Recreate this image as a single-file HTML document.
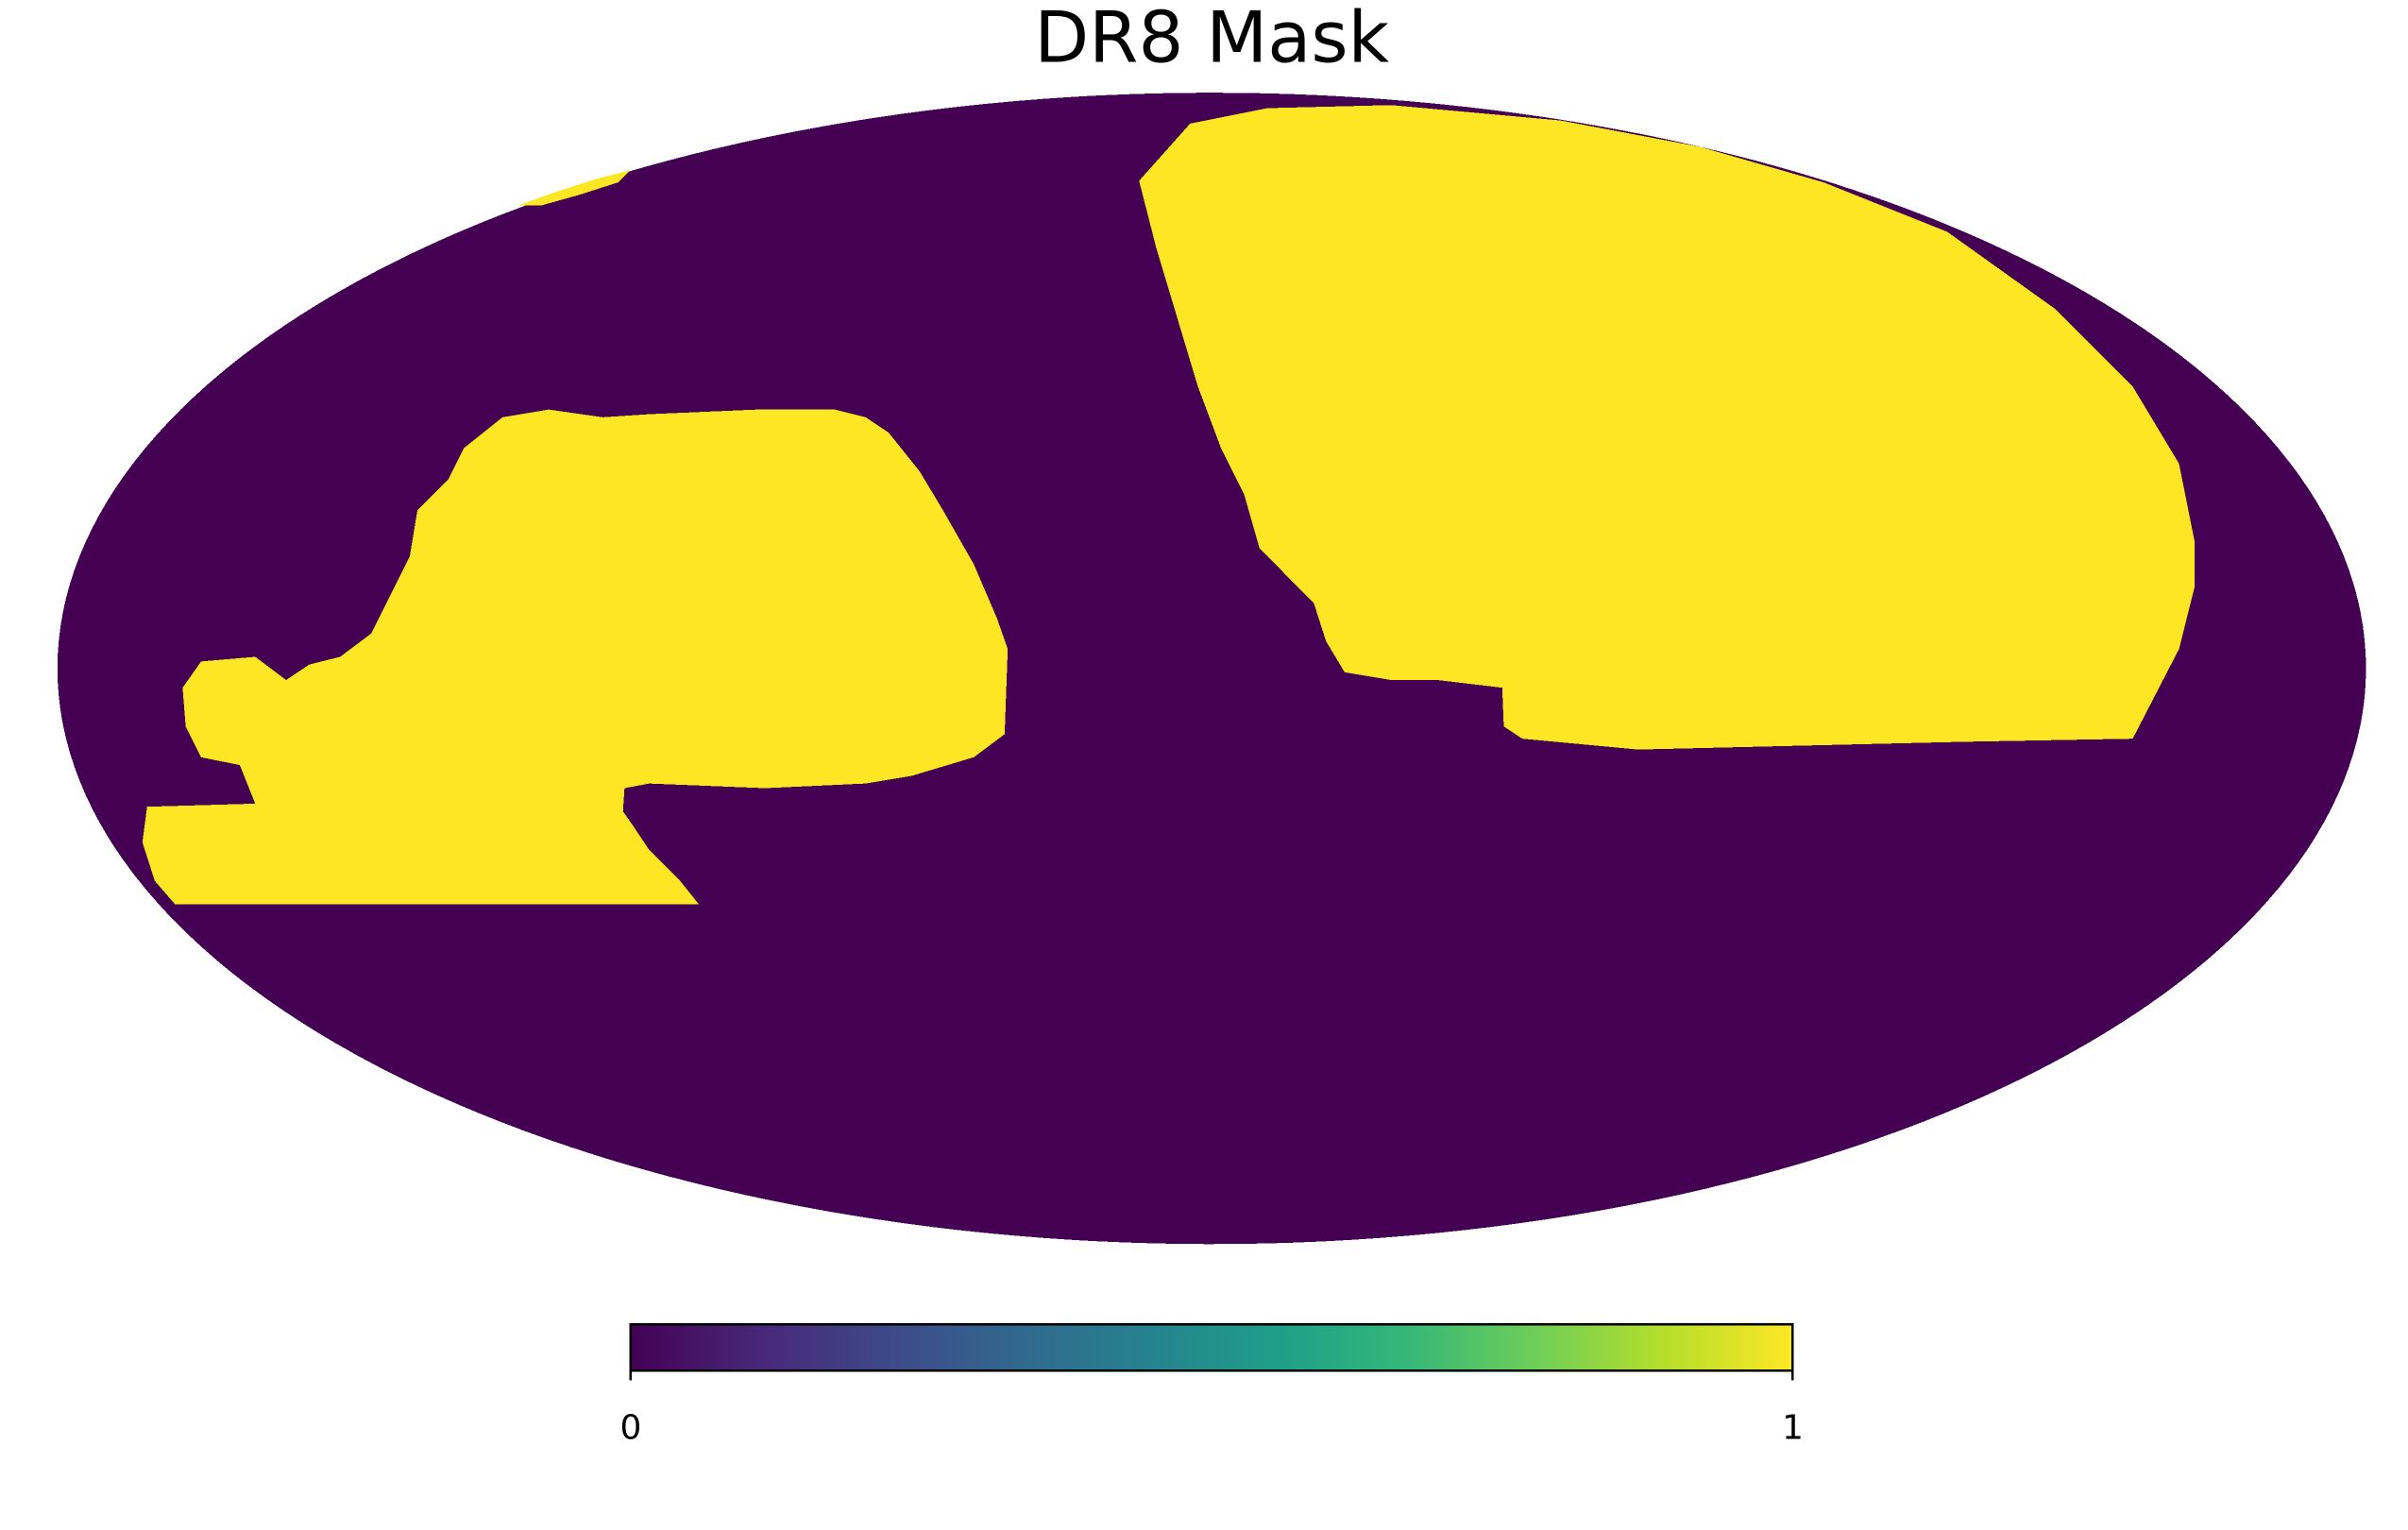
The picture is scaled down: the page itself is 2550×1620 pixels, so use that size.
<!DOCTYPE html>
<html><head><meta charset="utf-8">
<style>
html,body{margin:0;padding:0;background:#fff;}
svg{display:block;}
text{font-family:"DejaVu Sans","Liberation Sans",sans-serif;}
</style></head>
<body>
<svg id="chart" width="2550" height="1620" viewBox="0 0 1558 990" xmlns="http://www.w3.org/2000/svg" shape-rendering="crispEdges">
<defs>
<linearGradient id="viridis" x1="0" x2="1" y1="0" y2="0"></linearGradient>
</defs>
<text x="784" y="40" font-size="46" text-anchor="middle" fill="#000">DR8 Mask</text>
<g id="map"></g>
<g id="cbar"></g>
</svg>
<script>
const regionLeft = [[113,585],[452,585],[440,570],[420,550],[410,535],[403,525],[404,510],[420,507],[495,510],[560,507],[590,502],[630,490],[650,475],[652,420],[645,400],[630,365],[610,330],[595,305],[575,280],[560,270],[540,265],[490,265],[420,268],[390,270],[355,265],[325,270],[300,290],[290,310],[270,330],[265,360],[255,380],[240,410],[220,425],[200,430],[185,440],[165,425],[130,428],[118,445],[120,470],[130,490],[155,495],[165,520],[95,522],[92,545],[100,570]];
const regionRight = [[737,117],[770,80],[820,70],[900,68],[1010,78],[1100,95],[1180,118],[1260,150],[1330,200],[1380,250],[1410,300],[1420,350],[1420,380],[1410,420],[1380,478],[1270,480],[1060,485],[985,478],[973,470],[972,445],[930,440],[900,440],[870,435],[858,415],[850,390],[830,370],[815,355],[805,320],[790,290],[775,250],[760,200],[748,160]];
const regionSliver = [[335,133],[360,124],[385,116],[408,110],[400,118],[375,126],[350,133]];
const cbarTicks = [0, 1];
const viridisStops = ["#440154","#482878","#3e4989","#31688e","#26828e","#1f9e89","#35b779","#6ece58","#b5de2b","#fde725"];

const NS = "http://www.w3.org/2000/svg";
const map = document.getElementById('map');
const ell = document.createElementNS(NS,'ellipse');


ell.setAttribute('cx',784);ell.setAttribute('cy',432.5);ell.setAttribute('rx',747);ell.setAttribute('ry',372.5);
ell.setAttribute('fill','#440154');
map.appendChild(ell);
function poly(pts,name){
  const p=document.createElementNS(NS,'polygon');
  
  
  p.setAttribute('points',pts.map(a=>a.join(',')).join(' '));
  p.setAttribute('fill','#fde725');
  map.appendChild(p);
}
poly(regionLeft,'footprint-south');
poly(regionRight,'footprint-north');
poly(regionSliver,'footprint-sliver');

const grad=document.getElementById('viridis');
viridisStops.forEach((c,i)=>{
  const s=document.createElementNS(NS,'stop');
  s.setAttribute('offset',(i/(viridisStops.length-1)*100)+'%');
  s.setAttribute('stop-color',c);
  grad.appendChild(s);
});
const cb=document.getElementById('cbar');
const x0=408,x1=1160,y0=857,h=30;
const xs=v=>x0+(v-cbarTicks[0])/(cbarTicks[cbarTicks.length-1]-cbarTicks[0])*(x1-x0);
const r=document.createElementNS(NS,'rect');


r.setAttribute('x',x0);r.setAttribute('y',y0);r.setAttribute('width',x1-x0);r.setAttribute('height',h);
r.setAttribute('fill','url(#viridis)');r.setAttribute('stroke','#000');r.setAttribute('stroke-width','1.5');
cb.appendChild(r);
cbarTicks.forEach(v=>{
  const l=document.createElementNS(NS,'line');
  
  
  l.setAttribute('x1',xs(v));l.setAttribute('x2',xs(v));l.setAttribute('y1',y0+h);l.setAttribute('y2',y0+h+6);
  l.setAttribute('stroke','#000');l.setAttribute('stroke-width','1.5');
  cb.appendChild(l);
  const t=document.createElementNS(NS,'text');
  
  
  t.setAttribute('x',xs(v));t.setAttribute('y',931);t.setAttribute('font-size','22');t.setAttribute('text-anchor','middle');
  t.textContent=String(v);
  cb.appendChild(t);
});
</script>
</body></html>
